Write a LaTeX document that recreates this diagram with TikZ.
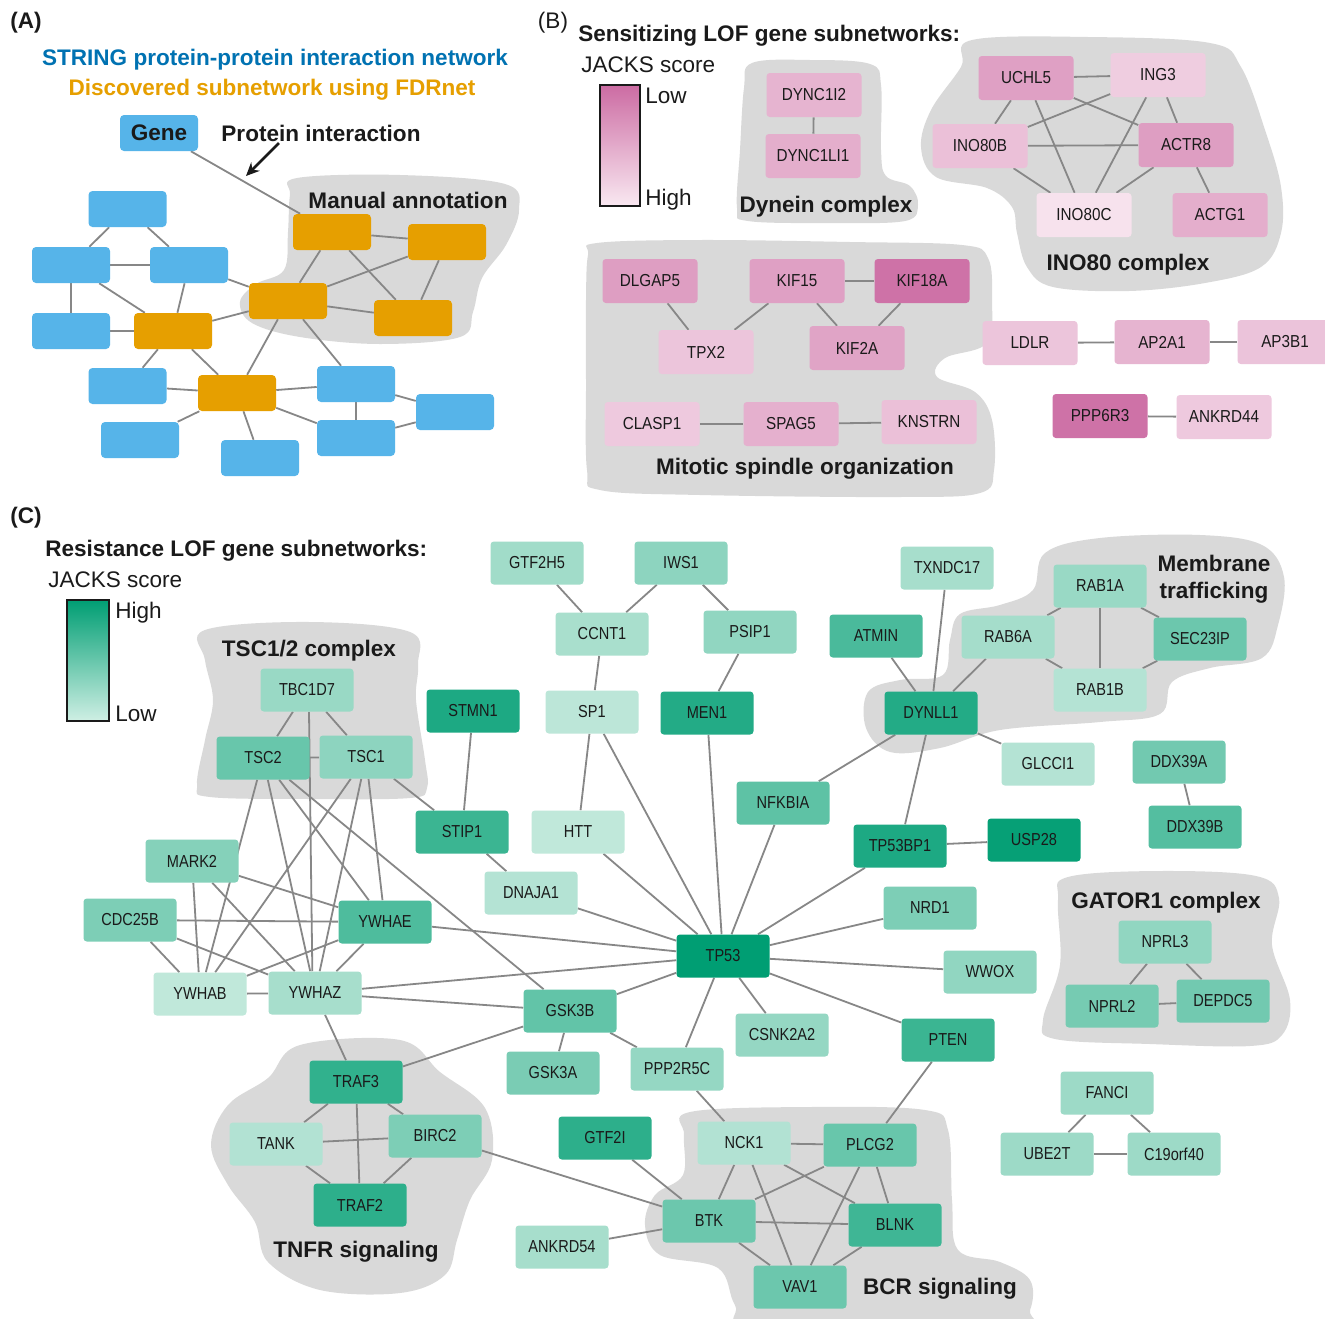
\documentclass[tikz,border=0pt]{standalone}
\usepackage{fontspec}
\setmainfont{Liberation Sans}
\newfontfamily\nfC[FakeStretch=0.84]{Liberation Sans}
\newfontfamily\nfB[FakeStretch=0.88]{Liberation Sans}
\usetikzlibrary{arrows.meta}
\definecolor{gdark}{HTML}{009E73}
\definecolor{glight}{HTML}{C4E9DC}
\definecolor{gbarlight}{HTML}{CFEFE4}
\definecolor{pdark}{HTML}{CC6CA3}
\definecolor{plight}{HTML}{F9E8F1}
\definecolor{skyb}{HTML}{56B4E9}
\definecolor{orng}{HTML}{E69F00}
\definecolor{tblue}{HTML}{0072B2}
\definecolor{blobgray}{HTML}{D9D9D9}
\definecolor{edgegray}{HTML}{878787}
\definecolor{txt}{HTML}{1A1A1A}
\pgfdeclarelayer{blobs}
\pgfdeclarelayer{edges}
\pgfsetlayers{blobs,edges,main}
\begin{document}
\begin{tikzpicture}[x=0.75pt,y=-0.75pt,
  cbox/.style={rectangle, rounded corners=2.5pt, inner sep=0pt, minimum width=69.75pt, minimum height=32.25pt, font=\nfC\fontsize{13}{15}\selectfont, text=txt},
  gC/.style={cbox, fill=gdark!#1!glight},
  pB/.style={rectangle, rounded corners=2.5pt, inner sep=0pt, minimum width=71.25pt, minimum height=33pt, font=\nfB\fontsize{13}{15}\selectfont, text=txt, fill=pdark!#1!plight},
  abox/.style={rectangle, rounded corners=3pt, minimum width=58.5pt, minimum height=27pt, inner sep=0pt},
  ablue/.style={abox, fill=skyb},
  aorng/.style={abox, fill=orng},
  ed/.style={draw=edgegray, line width=1.35pt},
  blob/.style={fill=blobgray},
  lab/.style={font=\bfseries\fontsize{16.9}{20}\selectfont, text=txt, inner sep=0pt, text height=13pt, text depth=1pt},
  labr/.style={font=\fontsize{16.9}{20}\selectfont, text=txt, inner sep=0pt, text height=13pt, text depth=1pt},
]
\useasboundingbox (0,0) rectangle (1325,1318);

% ---------------- blobs ----------------
\begin{pgfonlayer}{blobs}
\fill[white] (0,0) rectangle (1325,1318);
\fill[blob] plot[smooth cycle, tension=0.6] coordinates {(297,178) (400,175) (505,184) (519,210) (506,245) (482,278) (473,312) (460,337) (380,344) (300,337) (252,323) (240,302) (256,284) (284,270) (288,232) (290,195)};
\fill[blob] plot[smooth cycle, tension=0.6] coordinates {(752,63) (810,60) (870,64) (881,85) (881,150) (886,176) (910,186) (918,205) (905,221) (830,223) (748,221) (737,208) (740,150) (744,88)};
\fill[blob] plot[smooth cycle, tension=0.6] coordinates {(972,40) (1088,37) (1210,43) (1241,67) (1266,133) (1281,187) (1281,233) (1261,267) (1205,283) (1129,291) (1053,287) (1027,267) (1017,233) (1012,207) (987,188) (936,177) (921,147) (931,110) (961,67)};
\fill[blob] plot[smooth cycle, tension=0.6] coordinates {(597,243) (700,240) (850,242) (962,245) (988,258) (992,300) (987,343) (945,358) (937,377) (975,392) (992,420) (994,470) (980,493) (900,497) (700,495) (600,490) (587,470) (586,380) (586,300) (588,255)};
\fill[blob] plot[smooth cycle, tension=0.6] coordinates {(205,630) (310,622) (410,632) (418,665) (416,700) (425,760) (427,788) (410,798) (310,799) (210,797) (197,785) (205,740) (213,700) (205,660)};
\fill[blob] plot[smooth cycle, tension=0.6] coordinates {(868,692) (900,680) (943,675) (950,640) (960,614) (1000,605) (1033,590) (1045,553) (1100,538) (1200,535) (1262,545) (1284,577) (1278,625) (1262,658) (1210,668) (1172,682) (1160,714) (1100,722) (1000,730) (940,748) (890,752) (866,728)};
\fill[blob] plot[smooth cycle, tension=0.6] coordinates {(1068,877) (1160,871) (1256,876) (1279,898) (1272,945) (1290,1000) (1282,1035) (1250,1046) (1150,1044) (1055,1039) (1043,1020) (1060,965) (1058,900)};
\fill[blob] plot[smooth cycle, tension=0.6] coordinates {(300,1045) (400,1040) (440,1072) (485,1108) (492,1160) (470,1200) (457,1240) (445,1275) (400,1293) (320,1290) (268,1262) (255,1222) (228,1185) (211,1145) (228,1105) (268,1078)};
\fill[blob] plot[smooth cycle, tension=0.6] coordinates {(690,1112) (810,1107) (925,1110) (948,1130) (952,1200) (958,1250) (1000,1262) (1030,1280) (1030,1310) (1010,1330) (760,1330) (735,1305) (718,1268) (660,1255) (645,1225) (655,1195) (683,1175) (684,1135)};
\end{pgfonlayer}

% ---------------- Panel A ----------------
\node[lab] (labA) at (26,20) {(A)};
\node[lab, text=tblue] (tA1) at (275,57) {STRING protein-protein interaction network};
\node[lab, text=orng] (tA2) at (272,87) {Discovered subnetwork using FDRnet};
\node[ablue, font=\bfseries\fontsize{16.9}{20}\selectfont, text=txt] (gene) at (159,133) {Gene};
\node[lab] (pint) at (321,133) {Protein interaction};
\node[lab] (mann) at (408,200) {Manual annotation};
\coordinate (arA) at (279,143);
\coordinate (arB) at (246,176);
\draw[-{Stealth[length=10pt,width=9pt]}, line width=2pt, txt] (arA) -- (arB);

\node[ablue] (B1) at (127.5,209) {};
\node[ablue] (B2) at (71,265) {};
\node[ablue] (B3) at (189,265) {};
\node[ablue] (B4) at (71,331) {};
\node[ablue] (B5) at (127.5,386) {};
\node[ablue] (B6) at (140,440) {};
\node[ablue] (B7) at (260,458) {};
\node[ablue] (B8) at (356,384) {};
\node[ablue] (B9) at (356,438) {};
\node[ablue] (B10) at (455,412) {};
\node[aorng] (O1) at (332,232) {};
\node[aorng] (O2) at (447,242) {};
\node[aorng] (O3) at (288,301) {};
\node[aorng] (O4) at (413,318) {};
\node[aorng] (O5) at (173,331) {};
\node[aorng] (O6) at (237,393) {};

% ---------------- Panel B ----------------
\node[labr] (labB) at (553,20) {(B)};
\node[lab, anchor=west] (tB) at (578,33) {Sensitizing LOF gene subnetworks:};
\node[labr, anchor=west] (jB) at (581,64) {JACKS score};
\shade[top color=pdark, bottom color=plight] (600,85) rectangle (640,206);
\draw[line width=1.8pt, txt] (600,85) rectangle (640,206);
\node[labr, anchor=west] (lowB) at (645,95) {Low};
\node[labr, anchor=west] (highB) at (645,197) {High};
\node[lab] (dyn) at (826,204) {Dynein complex};
\node[lab] (ino) at (1128,262) {INO80 complex};
\node[lab] (mit) at (805,466) {Mitotic spindle organization};

\node[pB=42] (DYNC1I2) at (814,95) {DYNC1I2};
\node[pB=47] (DYNC1LI1) at (813,156) {DYNC1LI1};
\node[pB=58] (UCHL5) at (1026,78) {UCHL5};
\node[pB=22] (ING3) at (1158,75) {ING3};
\node[pB=32] (INO80B) at (980,146) {INO80B};
\node[pB=60] (ACTR8) at (1186,145) {ACTR8};
\node[pB=5] (INO80C) at (1084,215) {INO80C};
\node[pB=47] (ACTG1) at (1220,215) {ACTG1};
\node[pB=60] (DLGAP5) at (650,281) {DLGAP5};
\node[pB=58] (KIF15) at (797,281) {KIF15};
\node[pB=95] (KIF18A) at (922,281) {KIF18A};
\node[pB=28] (TPX2) at (706,352) {TPX2};
\node[pB=55] (KIF2A) at (857,348) {KIF2A};
\node[pB=25] (CLASP1) at (652,424) {CLASP1};
\node[pB=45] (SPAG5) at (791,424) {SPAG5};
\node[pB=32] (KNSTRN) at (929,422) {KNSTRN};
\node[pB=28] (LDLR) at (1030,343) {LDLR};
\node[pB=42] (AP2A1) at (1162,342) {AP2A1};
\node[pB=30] (AP3B1) at (1285,342) {AP3B1};
\node[pB=95] (PPP6R3) at (1100,416) {PPP6R3};
\node[pB=25] (ANKRD44) at (1224,417) {ANKRD44};

% ---------------- Panel C ----------------
\node[lab] (labC) at (26,515) {(C)};
\node[lab, anchor=west] (tC) at (45,548) {Resistance LOF gene subnetworks:};
\node[labr, anchor=west] (jC) at (48,579) {JACKS score};
\shade[top color=gdark, bottom color=gbarlight] (67,600) rectangle (109,721);
\draw[line width=1.8pt, txt] (67,600) rectangle (109,721);
\node[labr, anchor=west] (highC) at (115,610) {High};
\node[labr, anchor=west] (lowC) at (115,713) {Low};
\node[lab] (tsclab) at (309,648) {TSC1/2 complex};
\node[font=\bfseries\fontsize{16.9}{20.25}\selectfont, text=txt, align=center, inner sep=0pt] (memlab) at (1214,579) {Membrane\\trafficking};
\node[lab] (gatlab) at (1166,900) {GATOR1 complex};
\node[lab] (tnflab) at (356,1249) {TNFR signaling};
\node[lab] (bcrlab) at (940,1286) {BCR signaling};

\node[gC=18] (GTF2H5) at (537,563) {GTF2H5};
\node[gC=28] (IWS1) at (681,563) {IWS1};
\node[gC=14] (CCNT1) at (602,634) {CCNT1};
\node[gC=26] (PSIP1) at (750,632) {PSIP1};
\node[gC=4] (SP1) at (592,712) {SP1};
\node[gC=82] (MEN1) at (707,713) {MEN1};
\node[gC=85] (STMN1) at (473,711) {STMN1};
\node[gC=2] (HTT) at (578,832) {HTT};
\node[gC=70] (STIP1) at (462,832) {STIP1};
\node[gC=8] (DNAJA1) at (531,893) {DNAJA1};
\node[gC=52] (NFKBIA) at (783,803) {NFKBIA};
\node[gC=62] (ATMIN) at (876,636) {ATMIN};
\node[gC=15] (TXNDC17) at (947,568) {TXNDC17};
\node[gC=82] (DYNLL1) at (931,713) {DYNLL1};
\node[gC=8] (GLCCI1) at (1048,764) {GLCCI1};
\node[gC=85] (TP53BP1) at (900,846) {TP53BP1};
\node[gC=97] (USP28) at (1034,840) {USP28};
\node[gC=36] (NRD1) at (930,908) {NRD1};
\node[gC=26] (WWOX) at (990,972) {WWOX};
\node[gC=100] (TP53) at (723,956) {TP53};
\node[gC=70] (PTEN) at (948,1040) {PTEN};
\node[gC=24] (CSNK2A2) at (782,1035) {CSNK2A2};
\node[gC=24] (PPP2R5C) at (677,1069) {PPP2R5C};
\node[gC=50] (GSK3B) at (570,1011) {GSK3B};
\node[gC=38] (GSK3A) at (553,1073) {GSK3A};
\node[gC=22] (RAB1A) at (1100,586) {RAB1A};
\node[gC=16] (RAB6A) at (1008,637) {RAB6A};
\node[gC=45] (SEC23IP) at (1200,639) {SEC23IP};
\node[gC=8] (RAB1B) at (1100,690) {RAB1B};
\node[gC=42] (DDX39A) at (1179,762) {DDX39A};
\node[gC=57] (DDX39B) at (1195,827) {DDX39B};
\node[gC=26] (NPRL3) at (1165,942) {NPRL3};
\node[gC=40] (NPRL2) at (1112,1006) {NPRL2};
\node[gC=42] (DEPDC5) at (1223,1001) {DEPDC5};
\node[gC=20] (FANCI) at (1107,1093) {FANCI};
\node[gC=20] (UBE2T) at (1047,1154) {UBE2T};
\node[gC=20] (C19orf40) at (1174,1154) {C19orf40};
\node[gC=22] (TBC1D7) at (307,690) {TBC1D7};
\node[gC=47] (TSC2) at (263,758) {TSC2};
\node[gC=28] (TSC1) at (366,757) {TSC1};
\node[gC=32] (MARK2) at (192,861) {MARK2};
\node[gC=36] (CDC25B) at (130,920) {CDC25B};
\node[gC=60] (YWHAE) at (385,922) {YWHAE};
\node[gC=2] (YWHAB) at (200,994) {YWHAB};
\node[gC=15] (YWHAZ) at (315,993) {YWHAZ};
\node[gC=75] (TRAF3) at (356,1082) {TRAF3};
\node[gC=9] (TANK) at (276,1144) {TANK};
\node[gC=36] (BIRC2) at (435,1136) {BIRC2};
\node[gC=77] (TRAF2) at (360,1205) {TRAF2};
\node[gC=77] (GTF2I) at (605,1138) {GTF2I};
\node[gC=9] (NCK1) at (744,1143) {NCK1};
\node[gC=47] (PLCG2) at (870,1145) {PLCG2};
\node[gC=45] (BTK) at (709,1221) {BTK};
\node[gC=68] (BLNK) at (895,1225) {BLNK};
\node[gC=45] (VAV1) at (800,1287) {VAV1};
\node[gC=15] (ANKRD54) at (562,1247) {ANKRD54};

% ---------------- edges ----------------
\begin{pgfonlayer}{edges}
\draw[ed] (gene) -- (O1);
\foreach \a/\b in {B1/B2,B1/B3,B2/B3,B2/B4,B2/O5,B3/O5,B3/O3,B4/O5,O5/O3,O5/B5,O5/O6,O3/O1,O3/O2,O3/O4,O1/O2,O1/O4,O2/O4,O3/O6,O3/B8,B5/O6,O6/B8,O6/B6,O6/B7,O6/B9,B8/B9,B8/B10,B9/B10}
  \draw[ed] (\a) -- (\b);
\foreach \a/\b in {DYNC1I2/DYNC1LI1,UCHL5/ING3,UCHL5/INO80B,UCHL5/INO80C,UCHL5/ACTR8,ING3/INO80B,ING3/INO80C,ING3/ACTR8,INO80B/ACTR8,INO80B/INO80C,ACTR8/INO80C,ACTR8/ACTG1,DLGAP5/TPX2,KIF15/TPX2,KIF15/KIF18A,KIF15/KIF2A,KIF18A/KIF2A,CLASP1/SPAG5,SPAG5/KNSTRN,LDLR/AP2A1,AP2A1/AP3B1,PPP6R3/ANKRD44}
  \draw[ed] (\a) -- (\b);
\draw[ed] ([xshift=1.5pt]TBC1D7.south) -- ([xshift=-2pt]YWHAZ.north);
\foreach \a/\b in {TBC1D7/TSC2,TBC1D7/TSC1,TSC2/TSC1,TSC2/YWHAB,TSC2/YWHAZ,TSC2/YWHAE,TSC2/GSK3B,TSC1/YWHAB,TSC1/YWHAZ,TSC1/YWHAE,TSC1/STIP1,MARK2/YWHAB,MARK2/YWHAZ,MARK2/YWHAE,CDC25B/YWHAE,CDC25B/YWHAB,CDC25B/YWHAZ,YWHAE/YWHAB,YWHAE/YWHAZ,YWHAE/TP53,YWHAB/YWHAZ,YWHAZ/TP53,YWHAZ/GSK3B,YWHAZ/TRAF3,GSK3B/TRAF3,GSK3B/TP53,GSK3B/GSK3A,GSK3B/PPP2R5C,STMN1/STIP1,STIP1/DNAJA1,DNAJA1/TP53,HTT/TP53,SP1/TP53,MEN1/TP53,NFKBIA/TP53,TP53BP1/TP53,NRD1/TP53,WWOX/TP53,PTEN/TP53,CSNK2A2/TP53,PPP2R5C/TP53,GTF2H5/CCNT1,IWS1/CCNT1,IWS1/PSIP1,CCNT1/SP1,PSIP1/MEN1,SP1/HTT,ATMIN/DYNLL1,TXNDC17/DYNLL1,RAB6A/DYNLL1,DYNLL1/GLCCI1,DYNLL1/NFKBIA,DYNLL1/TP53BP1,TP53BP1/USP28,RAB1A/RAB6A,RAB1A/RAB1B,RAB1A/SEC23IP,RAB6A/RAB1B,SEC23IP/RAB1B,DDX39A/DDX39B,NPRL3/NPRL2,NPRL3/DEPDC5,NPRL2/DEPDC5,FANCI/UBE2T,FANCI/C19orf40,UBE2T/C19orf40,PTEN/PLCG2,PPP2R5C/NCK1,TRAF3/TANK,TRAF3/BIRC2,TRAF3/TRAF2,TANK/BIRC2,TANK/TRAF2,BIRC2/TRAF2,BIRC2/BTK,GTF2I/BTK,ANKRD54/BTK,NCK1/PLCG2,NCK1/BTK,NCK1/VAV1,NCK1/BLNK,PLCG2/BTK,PLCG2/VAV1,PLCG2/BLNK,BTK/BLNK,BTK/VAV1,BLNK/VAV1}
  \draw[ed] (\a) -- (\b);
\end{pgfonlayer}
\end{tikzpicture}
\end{document}
